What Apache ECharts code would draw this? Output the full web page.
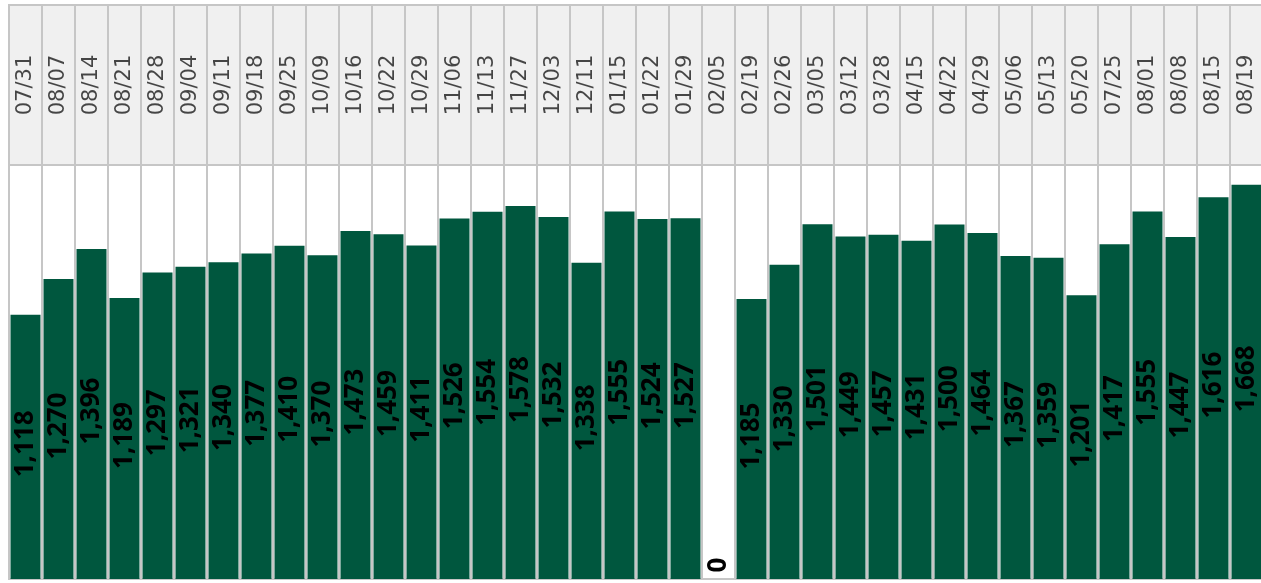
<!DOCTYPE html>
<html>
<head>
<meta charset="utf-8">
<style>
  html, body { margin: 0; padding: 0; background: #fff; }
  #chart { width: 1261px; height: 583px; }
</style>
<script src="https://cdn.jsdelivr.net/npm/echarts@6/dist/echarts.min.js"></script>
</head>
<body>
<div id="chart"></div>
<script>
"use strict";

const dates = [
  "07/31", "08/07", "08/14", "08/21", "08/28", "09/04", "09/11", "09/18", "09/25", "10/09",
  "10/16", "10/22", "10/29", "11/06", "11/13", "11/27", "12/03", "12/11", "01/15", "01/22",
  "01/29", "02/05", "02/19", "02/26", "03/05", "03/12", "03/28", "04/15", "04/22", "04/29",
  "05/06", "05/13", "05/20", "07/25", "08/01", "08/08", "08/15", "08/19",
];
const values = [
  1118, 1270, 1396, 1189, 1297, 1321, 1340, 1377, 1410, 1370,
  1473, 1459, 1411, 1526, 1554, 1578, 1532, 1338, 1555, 1524,
  1527, 0, 1185, 1330, 1501, 1449, 1457, 1431, 1500, 1464,
  1367, 1359, 1201, 1417, 1555, 1447, 1616, 1668,
];
const yMax = 1752;

const GREEN = "#00573e";
const LINE = "#c6c6c6";
const FONT = "'Open Sans', 'DejaVu Sans', sans-serif";

const chart = echarts.init(document.getElementById("chart"));

// zero bar gets its label just above the baseline
const barData = values.map((v) => v === 0
  ? { value: v, label: { position: ["50%", -14], align: "center", verticalAlign: "middle", offset: [0, 0] } }
  : v);

// header cells: one text per category, centred in the grey band
const headData = dates.map((d) => [d, 0.5]);

chart.setOption({
  animation: false,
  grid: [
    { left: 9, top: 5, width: 1254, height: 160, show: true, backgroundColor: "#f0f0f0",
      borderColor: LINE, borderWidth: 2, outerBoundsMode: "none" },
    { left: 9, top: 165, width: 1254, height: 414, show: true, backgroundColor: "#fff",
      borderColor: LINE, borderWidth: 2, outerBoundsMode: "none" },
  ],
  xAxis: [
    {
      gridIndex: 0, type: "category", data: dates,
      axisLine: { show: false }, axisTick: { show: false }, axisLabel: { show: false },
      splitLine: { show: true, interval: 0, lineStyle: { color: LINE, width: 2 } },
    },
    {
      gridIndex: 1, type: "category", data: dates,
      axisLine: { show: false }, axisTick: { show: false }, axisLabel: { show: false },
      splitLine: { show: true, interval: 0, lineStyle: { color: LINE, width: 2 } },
    },
  ],
  yAxis: [
    { gridIndex: 0, type: "value", show: false, min: 0, max: 1, splitLine: { show: false } },
    { gridIndex: 1, type: "value", show: false, min: 0, max: yMax, splitLine: { show: false } },
  ],
  series: [
    {
      type: "scatter",
      xAxisIndex: 0, yAxisIndex: 0,
      data: headData,
      symbolSize: 0,
      silent: true,
      label: {
        show: true, position: "inside", rotate: 90,
        color: "#1a1a1a", fontFamily: "'DejaVu Sans', sans-serif", fontSize: 21,
        formatter: (p) => p.value[0],
      },
    },
    {
      type: "bar",
      xAxisIndex: 1, yAxisIndex: 1,
      data: barData,
      barWidth: 30,
      itemStyle: { color: GREEN },
      label: {
        show: true, position: "inside", rotate: 90, offset: [3, 0],
        color: "#000", fontFamily: FONT, fontWeight: "bold", fontSize: 26,
        formatter: (p) => p.value.toLocaleString("en-US"),
      },
    },
  ],
});
</script>
</body>
</html>
